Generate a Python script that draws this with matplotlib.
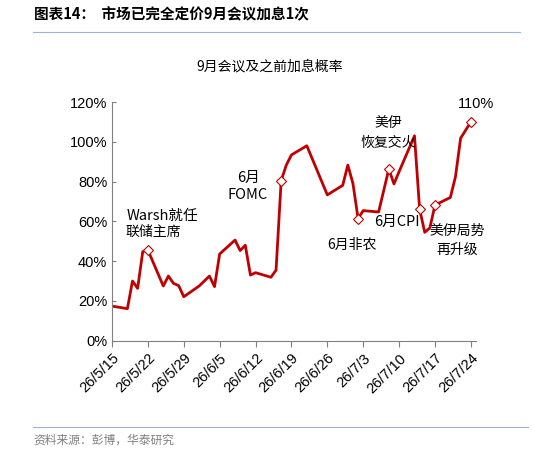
import matplotlib
matplotlib.use("Agg")
import matplotlib.pyplot as plt
import datetime as dt

plt.rcParams['font.family'] = ['Noto Sans CJK SC', 'DejaVu Sans']

start = dt.date(2026, 5, 15)
day_offsets = [0,3,4,5,6,7,10,11,12,13,14,17,19,20,21,24,25,26,27,28,31,32,33,34,35,38,42,45,46,47,48,49,52,54,55,56,59,60,61,62,63,66,67,68,70]
probs = [17.4,16.1,30,26.3,44.8,45.6,27.5,32.5,28.8,27.7,22.1,27.5,32.5,27.2,43.6,50.6,45.3,48,33,34.2,31.9,35.5,80.5,88.3,93.4,98,73.3,78.1,88.3,79,61.4,65.4,64.7,86.3,78.8,85,103,66.2,54.5,56.7,68.2,72,82.5,101.8,110]
marker_days = [7,33,48,54,60,63,70]
tick_labels = ['26/5/15','26/5/22','26/5/29','26/6/5','26/6/12','26/6/19','26/6/26','26/7/3','26/7/10','26/7/17','26/7/24']

dates = [start + dt.timedelta(days=d) for d in day_offsets]
mk_dates = [start + dt.timedelta(days=d) for d in marker_days]
mk_vals = [probs[day_offsets.index(d)] for d in marker_days]

W, H = 534, 454
fig = plt.figure(figsize=(W/100, H/100), dpi=100)
ax = fig.add_axes([112/W, 1-340.7/H, (476-112)/W, (340.7-102)/H])
red = '#C00000'
ax.plot(dates, probs, color=red, lw=2)
ax.plot(mk_dates, mk_vals, ls='none', marker='D', ms=5, mfc='white', mec=red, mew=0.8)

ax.set_ylim(0, 120)
ax.set_yticks(range(0, 121, 20))
ax.set_yticklabels([f'{v}%' for v in range(0, 121, 20)], fontsize=10.5, family='Liberation Sans')
ticks = [start + dt.timedelta(days=7*i) for i in range(11)]
ax.set_xticks(ticks)
ax.set_xticklabels(tick_labels, rotation=45, ha='right', rotation_mode='anchor', fontsize=10.5, family='Liberation Sans')
ax.set_xlim(start - dt.timedelta(days=0.3), start + dt.timedelta(days=71))
for s in ['top', 'right']:
    ax.spines[s].set_visible(False)
for s in ['left', 'bottom']:
    ax.spines[s].set_color('#808080')
ax.tick_params(axis='y', length=3, color='#808080', direction='in')
ax.tick_params(axis='x', length=4, color='#808080', direction='out')

def t(x, y, s, **kw):
    fig.text(x/W, 1-y/H, s, **kw)

t(162, 216, 'Warsh就任', fontsize=10.5, ha='center', va='center')
t(153, 232, '联储主席', fontsize=10, ha='center', va='center')
t(248, 178, '6月', fontsize=10.5, ha='center', va='center')
t(248, 195, 'FOMC', fontsize=10.5, ha='center', va='center')
t(352, 245, '6月非农', fontsize=10, ha='center', va='center')
t(388, 124, '美伊', fontsize=10, ha='center', va='center')
t(388, 143, '恢复交火', fontsize=10, ha='center', va='center')
t(397, 222, '6月CPI', fontsize=10.5, ha='center', va='center')
t(457, 231, '美伊局势', fontsize=10, ha='center', va='center')
t(457, 250, '再升级', fontsize=10, ha='center', va='center')
t(476, 104, '110%', fontsize=10.5, ha='center', va='center', family='Liberation Sans')

t(270, 66, '9月会议及之前加息概率', fontsize=10, ha='center', va='center')
t(34, 14, '图表14：  市场已完全定价9月会议加息1次', fontsize=10.5, fontweight='bold', ha='left', va='center')
fig.add_artist(plt.Line2D([33/W, 520/W], [1-32/H, 1-32/H], color='#9DB3D5', lw=0.8))
fig.add_artist(plt.Line2D([33/W, 528/W], [1-427/H, 1-427/H], color='#9DB3D5', lw=0.8))
t(33, 440, '资料来源：彭博，华泰研究', fontsize=8.5, color='#808080', ha='left', va='center')

fig.savefig('out.png', dpi=100)
